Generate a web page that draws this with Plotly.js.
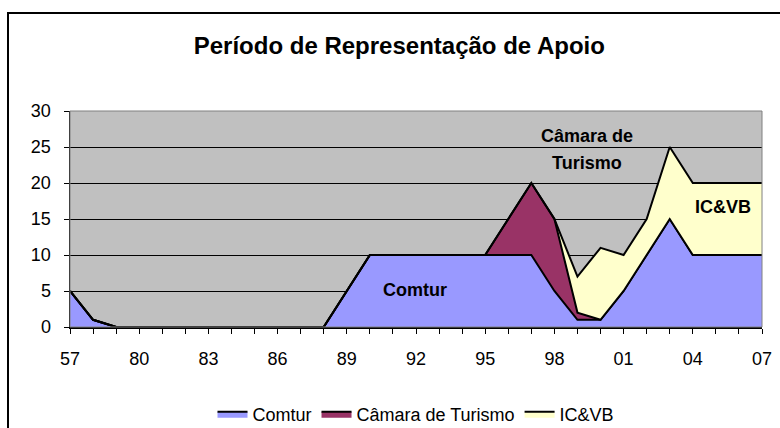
<!DOCTYPE html>
<html>
<head>
<meta charset="utf-8">
<script src="https://cdn.plot.ly/plotly-3.0.1.min.js"></script>
<style>
  html, body { margin: 0; padding: 0; background: #ffffff; }
  #chart { width: 780px; height: 428px; }
</style>
</head>
<body>
<div id="chart"></div>
<script>
// ---- data ----
const categories = ["57","78","79","80","81","82","83","84","85","86","87","88","89","90",
  "91","92","93","94","95","96","97","98","99","00","01","02","03","04","05","06","07"];
const comtur = [5,1,0,0,0,0,0,0,0,0,0,0,5,10,10,10,10,10,10,10,10,5,1,1,5,10,15,10,10,10,10];
const camara = [0,0,0,0,0,0,0,0,0,0,0,0,0,0,0,0,0,0,0,5,10,10,1,0,0,0,0,0,0,0,0];
const icvb   = [0,0,0,0,0,0,0,0,0,0,0,0,0,0,0,0,0,0,0,0,0,0,5,10,5,5,10,10,10,10,10];
const seriesNames = ["Comtur", "Câmara de Turismo", "IC&VB"];
const yTicks = [0,5,10,15,20,25,30];

// ---- layout constants ----
const W = 780, H = 428;
const L = 70, R = 18, T = 111, B = 101;
const pw = W - L - R, ph = H - T - B;
const px = x => (x - L) / pw;
const py = y => (H - B - y) / ph;

const font = "Liberation Sans, Arial, sans-serif";
const tickText = categories.map((c, i) => (i % 3 === 0 ? c : ""));

function area(name, vals, color) {
  return {
    type: "scatter", mode: "lines", name: name,
    x: categories, y: vals,
    stackgroup: "one", fill: "tonexty", fillcolor: color,
    line: { color: "#000000", width: 2, shape: "linear" },
    hoverinfo: "skip"
  };
}

const data = [
  area(seriesNames[0], comtur, "#9999FF"),
  area(seriesNames[1], camara, "#993366"),
  area(seriesNames[2], icvb, "#FFFFCC")
];

function label(text, x, y) {
  return { text: "<b>" + text + "</b>", xref: "paper", yref: "paper",
    x: px(x), y: py(y), xanchor: "center", yanchor: "middle",
    showarrow: false, font: { family: font, size: 18, color: "#000000" } };
}

const layout = {
  width: W, height: H,
  margin: { l: L, r: R, t: T, b: B, pad: 0, autoexpand: false },
  paper_bgcolor: "#FFFFFF",
  plot_bgcolor: "#C0C0C0",
  font: { family: font, size: 18, color: "#000000" },
  title: {
    text: "<b>Período de Representação de Apoio</b>",
    font: { family: font, size: 24, color: "#000000" },
    xref: "container", x: 0.512, xanchor: "center",
    yref: "container", y: 1 - 46 / H, yanchor: "middle"
  },
  showlegend: true,
  legend: {
    orientation: "h", traceorder: "normal",
    x: 0.5, xanchor: "center", y: py(414), yanchor: "middle",
    font: { family: font, size: 18, color: "#000000" },
    itemwidth: 30, bgcolor: "rgba(0,0,0,0)"
  },
  xaxis: {
    type: "category",
    range: [0, categories.length - 1],
    tickmode: "array", tickvals: categories, ticktext: tickText,
    ticks: "outside", ticklen: 5, tickwidth: 1, tickcolor: "#000000",
    ticklabelstandoff: 10,
    showline: true, linecolor: "#000000", linewidth: 1.5,
    showgrid: false, zeroline: false, automargin: false,
    tickfont: { family: font, size: 18, color: "#000000" }
  },
  yaxis: {
    range: [0, 30],
    tickmode: "array", tickvals: yTicks,
    ticks: "outside", ticklen: 5, tickwidth: 1, tickcolor: "#000000",
    ticklabelstandoff: 9,
    showline: true, linecolor: "#000000", linewidth: 1.5,
    showgrid: true, gridcolor: "#000000", gridwidth: 1,
    zeroline: false, automargin: false,
    tickfont: { family: font, size: 18, color: "#000000" }
  },
  shapes: [
    { type: "rect", xref: "paper", yref: "paper", x0: 0, x1: 1, y0: 0, y1: 1,
      line: { color: "#808080", width: 1 }, layer: "above" },
    { type: "rect", xref: "paper", yref: "paper",
      x0: px(8), x1: px(800), y0: py(450), y1: py(13),
      line: { color: "#000000", width: 2 }, fillcolor: "rgba(0,0,0,0)", layer: "above" }
  ],
  annotations: [
    label("Comtur", 415, 290),
    label("Câmara de", 587, 136),
    label("Turismo", 587, 163),
    label("IC&VB", 723, 207)
  ]
};

Plotly.newPlot("chart", data, layout, { staticPlot: true, displayModeBar: false });
</script>
</body>
</html>
